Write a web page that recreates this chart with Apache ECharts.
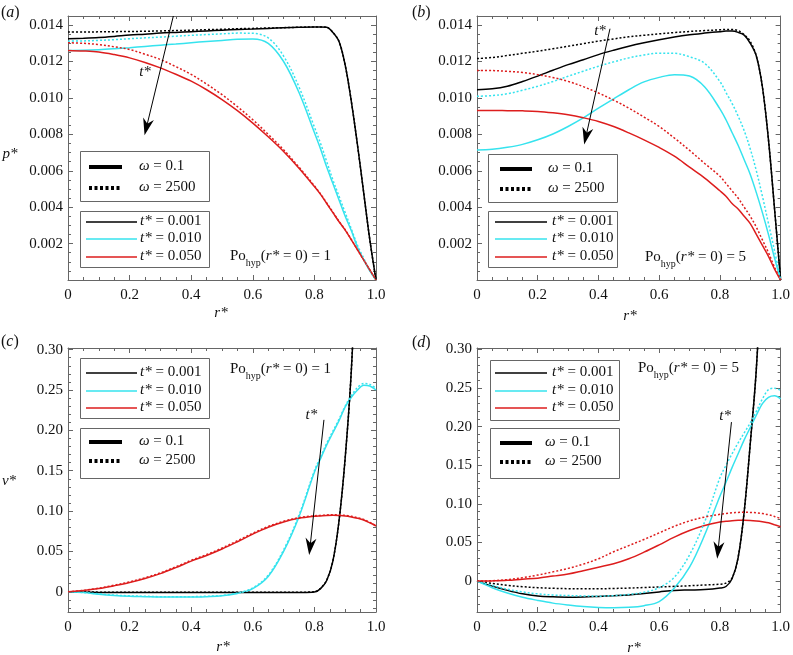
<!DOCTYPE html>
<html><head><meta charset="utf-8">
<script src="https://cdn.jsdelivr.net/npm/echarts@6/dist/echarts.min.js"></script>
<style>html,body{margin:0;padding:0;background:#fff}#c{width:793px;height:655px}</style>
</head><body><div id="c"></div>
<script>
// ---------- data ----------
const R = [0,0.05,0.1,0.15,0.2,0.25,0.3,0.35,0.4,0.45,0.5,0.55,0.6,0.65,0.7,0.75,0.8,0.82,0.84,0.86,0.88,0.9,0.92,0.94,0.96,0.98,1.0];
const R_TICKS = [0,0.2,0.4,0.6,0.8,1.0];
const P_TICKS = [0.002,0.004,0.006,0.008,0.010,0.012,0.014];
const V_TICKS = [0,0.05,0.10,0.15,0.20,0.25,0.30];
const T_LABELS = ['0.001','0.010','0.050'];
const W_LABELS = ['0.1','2500'];
const PO_LABELS = ['1','5','1','5'];

// panel (a): p*, Po=1
const pA_t001_w01   = [0.01325,0.01328,0.01332,0.01338,0.01345,0.0135,0.01356,0.0136,0.01364,0.01368,0.01372,0.01376,0.01379,0.01382,0.01385,0.01388,0.0139,0.0139,0.01388,0.0136,0.0131,0.0118,0.0098,0.0074,0.0048,0.0022,0];
const pA_t001_w2500 = [0.01362,0.01362,0.01363,0.01364,0.01365,0.01366,0.01368,0.0137,0.01372,0.01375,0.01377,0.0138,0.01382,0.01384,0.01386,0.01388,0.0139,0.0139,0.01388,0.0136,0.0131,0.0118,0.0098,0.0074,0.0048,0.0022,0];
const pA_t010_w01   = [0.01261,0.01262,0.01265,0.0127,0.01276,0.01283,0.0129,0.01296,0.01303,0.0131,0.01316,0.01322,0.01324,0.013,0.012,0.0103,0.0081,0.0072,0.0062,0.0053,0.0044,0.0035,0.0027,0.0018,0.0011,0.0005,0];
const pA_t010_w2500 = [0.01312,0.01313,0.01316,0.0132,0.01325,0.0133,0.01334,0.01339,0.01344,0.01348,0.01352,0.01356,0.01355,0.0133,0.0123,0.0106,0.0084,0.0075,0.0065,0.0055,0.0046,0.0037,0.0028,0.0019,0.0012,0.0005,0];
const pA_t050_w01   = [0.01261,0.01258,0.01252,0.01238,0.0122,0.01195,0.01165,0.0113,0.01092,0.01045,0.00991,0.0093,0.00862,0.00787,0.00706,0.00614,0.00513,0.0047,0.0042,0.0037,0.0032,0.00274,0.0022,0.00165,0.0011,0.00055,0];
const pA_t050_w2500 = [0.01303,0.013,0.01293,0.01281,0.01266,0.0124,0.01211,0.01172,0.01129,0.01076,0.01018,0.00952,0.0088,0.008,0.00715,0.0062,0.00517,0.00473,0.00423,0.00373,0.00322,0.00276,0.00222,0.00166,0.0011,0.00055,0];

// panel (b): p*, Po=5
const pB_t001_w01   = [0.01045,0.0105,0.01064,0.0109,0.0112,0.01152,0.01183,0.0121,0.01238,0.01262,0.01284,0.01303,0.0132,0.01335,0.01347,0.01356,0.01364,0.01367,0.01367,0.0136,0.01345,0.0130,0.0123,0.0106,0.0077,0.0039,0];
const pB_t001_w2500 = [0.01216,0.01222,0.01233,0.01245,0.01257,0.0127,0.01284,0.01298,0.01312,0.01324,0.01336,0.01344,0.01352,0.01359,0.01365,0.0137,0.01374,0.01376,0.01376,0.0137,0.01348,0.0131,0.0123,0.0106,0.0077,0.0039,0];
const pB_t010_w01   = [0.00714,0.00718,0.00729,0.00745,0.0077,0.00802,0.00843,0.0089,0.00944,0.00995,0.01045,0.01088,0.01113,0.01128,0.0112,0.0106,0.0094,0.0088,0.0081,0.0074,0.0066,0.0058,0.0048,0.0037,0.0025,0.0012,0];
const pB_t010_w2500 = [0.01009,0.01013,0.01023,0.01042,0.01064,0.0109,0.01119,0.01147,0.01174,0.01198,0.0122,0.01236,0.01246,0.01245,0.01226,0.0119,0.0109,0.0103,0.0097,0.009,0.0082,0.0072,0.006,0.0046,0.0031,0.0016,0];
const pB_t050_w01   = [0.00931,0.00931,0.0093,0.00929,0.00926,0.00918,0.00907,0.00891,0.00871,0.00843,0.00808,0.0077,0.00728,0.0068,0.0062,0.0056,0.0049,0.0046,0.0042,0.0039,0.0035,0.0031,0.0025,0.0019,0.0013,0.0006,0];
const pB_t050_w2500 = [0.0115,0.0115,0.01146,0.0114,0.01128,0.01112,0.01091,0.01062,0.01027,0.00988,0.00944,0.00895,0.00843,0.0078,0.00712,0.0064,0.0057,0.0053,0.0049,0.0045,0.004,0.0035,0.0029,0.0022,0.0015,0.0007,0];

// panel (c): v*, Po=1
const vC_t001_w01   = [0,-0.0004,-0.0007,-0.0009,-0.001,-0.001,-0.001,-0.001,-0.001,-0.001,-0.001,-0.001,-0.001,-0.001,-0.001,-0.0009,-0.0003,0.004,0.014,0.038,0.088,0.166,0.275,0.45,null,null,null];
const vC_t001_w2500 = [0,-0.0002,-0.0004,-0.0005,-0.0006,-0.0006,-0.0006,-0.0006,-0.0006,-0.0006,-0.0006,-0.0006,-0.0006,-0.0006,-0.0006,-0.0005,0,0.0045,0.0145,0.0385,0.088,0.166,0.275,0.45,null,null,null];
const vC_t010_w01   = [0,-0.001,-0.003,-0.0045,-0.0055,-0.006,-0.0065,-0.0065,-0.0065,-0.006,-0.005,-0.002,0.004,0.019,0.05,0.093,0.148,0.165,0.182,0.197,0.212,0.229,0.241,0.25,0.256,0.255,0.25];
const vC_t010_w2500 = [0,-0.0008,-0.0025,-0.004,-0.005,-0.0055,-0.006,-0.006,-0.006,-0.0055,-0.0045,-0.0015,0.0048,0.0205,0.052,0.095,0.15,0.167,0.184,0.199,0.214,0.23,0.243,0.253,0.258,0.257,0.252];
const vC_t050_w01   = [0,0.0015,0.004,0.0075,0.0115,0.0165,0.0225,0.03,0.038,0.045,0.053,0.062,0.0715,0.08,0.0865,0.091,0.0935,0.094,0.0945,0.0947,0.0945,0.094,0.0928,0.0912,0.089,0.0855,0.0815];
const vC_t050_w2500 = [0,0.0017,0.0045,0.0082,0.0123,0.0174,0.0235,0.031,0.039,0.0462,0.0542,0.0632,0.0725,0.081,0.0873,0.0918,0.0942,0.0947,0.0952,0.0954,0.0952,0.0947,0.0935,0.0918,0.0896,0.086,0.082];

// panel (d): v*, Po=5
const vD_t001_w01   = [0,-0.0065,-0.012,-0.0165,-0.0192,-0.0203,-0.0208,-0.0205,-0.0198,-0.019,-0.018,-0.016,-0.014,-0.012,-0.0115,-0.011,-0.009,-0.007,0.003,0.03,0.09,0.178,0.275,0.43,null,null,null];
const vD_t001_w2500 = [0,-0.003,-0.0055,-0.0072,-0.0085,-0.0093,-0.0098,-0.01,-0.01,-0.0095,-0.009,-0.0083,-0.0076,-0.0068,-0.006,-0.005,-0.004,-0.0025,0.004,0.031,0.09,0.178,0.275,0.43,null,null,null];
const vD_t010_w01   = [0,-0.0085,-0.0155,-0.021,-0.025,-0.0285,-0.031,-0.033,-0.0342,-0.0346,-0.034,-0.0318,-0.0265,-0.009,0.018,0.06,0.11,0.128,0.147,0.165,0.183,0.199,0.215,0.23,0.238,0.24,0.236];
const vD_t010_w2500 = [0,-0.0055,-0.0105,-0.014,-0.0165,-0.018,-0.0187,-0.0192,-0.0195,-0.0188,-0.0172,-0.0145,-0.0085,0.005,0.034,0.077,0.134,0.15,0.165,0.179,0.192,0.205,0.22,0.236,0.248,0.25,0.247];
const vD_t050_w01   = [0,0.0003,0.001,0.0025,0.0038,0.0065,0.0092,0.0135,0.018,0.0225,0.029,0.0375,0.047,0.057,0.0655,0.072,0.0766,0.0775,0.0783,0.0787,0.0788,0.0785,0.0778,0.0768,0.0755,0.073,0.0706];
const vD_t050_w2500 = [0,0.0005,0.002,0.0045,0.0078,0.012,0.0165,0.022,0.029,0.038,0.046,0.054,0.0625,0.071,0.078,0.083,0.0865,0.0875,0.0885,0.089,0.0893,0.089,0.0885,0.0875,0.086,0.0838,0.081];

// arrows: start, tip, t* label position (data coords)
const ARROWS = [
  [[0.342,0.0145],[0.255,0.0084],[0.25,0.0114]],
  [[0.438,0.0138],[0.359,0.0079],[0.405,0.0137]],
  [[0.831,0.213],[0.786,0.056],[0.79,0.219]],
  [[0.838,0.206],[0.794,0.040],[0.817,0.214]]
];

// ---------- styling ----------
const FONT = "Liberation Serif, Tinos, DejaVu Serif, Noto Serif, serif";
const FRAME = '#666666';
const TXT = '#111111';
const BLACK = '#000000', CYAN = '#36e3ee', RED = '#dd1d1d';
const ARROW_PATH = 'path://M6,0L12,17L6,12L0,17Z';

const GRIDS = [
  {left:68, top:16, width:308, height:264},
  {left:477, top:16, width:306, height:264},
  {left:68, top:348, width:308, height:264},
  {left:477, top:348, width:306, height:264}
];
const YR = [[0,0.0145],[0,0.0145],[-0.025,0.302],[-0.04,0.302]];

function minorList(lo, hi, step, majorStep){
  const out = [];
  const n0 = Math.ceil(lo/step - 1e-9), n1 = Math.floor(hi/step + 1e-9);
  const k = Math.round(majorStep/step);
  for (let n=n0;n<=n1;n++){ if (n % k !== 0) out.push(+(n*step).toFixed(6)); }
  return out;
}

const fmtR = v => v===0 ? '0' : v.toFixed(1);
const fmtP = v => v.toFixed(3);
const fmtV = v => v===0 ? '0' : v.toFixed(2);

const xAxis = [], yAxis = [];
GRIDS.forEach((g,gi)=>{
  const xb = {gridIndex:gi, type:'value', min:0, max:1, interval:0.2, splitLine:{show:false},
    axisLine:{show:true,onZero:false,lineStyle:{color:FRAME,width:1}},
    axisTick:{show:true,inside:true,length:5,lineStyle:{color:FRAME}},
    minorTick:{show:true,splitNumber:4,length:3,lineStyle:{color:FRAME}},
    minorSplitLine:{show:false}};
  xAxis.push(Object.assign({}, xb, {position:'bottom',
    axisLabel:{show:true,formatter:fmtR,margin:8,fontFamily:FONT,fontSize:15,color:TXT}}));
  xAxis.push(Object.assign({}, xb, {position:'top', axisLabel:{show:false}}));
  const [mn,mx] = YR[gi];
  const isP = gi<2;
  const major = isP ? P_TICKS : V_TICKS;
  const minor = isP ? minorList(0.0005, 0.0144, 0.0005, 0.002) : minorList(mn, 0.295, 0.01, 0.05);
  const yb = {gridIndex:gi, type:'value', min:mn, max:mx, splitLine:{show:false}};
  yAxis.push(Object.assign({}, yb, {position:'left',
    axisLine:{show:true,onZero:false,lineStyle:{color:FRAME,width:1}},
    axisTick:{show:true,inside:true,length:5,customValues:major,lineStyle:{color:FRAME}},
    axisLabel:{show:true,customValues:major,formatter:isP?fmtP:fmtV,margin:5,fontFamily:FONT,fontSize:15,color:TXT}}));
  yAxis.push(Object.assign({}, yb, {position:'left',
    axisLine:{show:false,onZero:false},
    axisTick:{show:true,inside:true,length:3,customValues:minor,lineStyle:{color:FRAME}},
    axisLabel:{show:false}}));
  yAxis.push(Object.assign({}, yb, {position:'right',
    axisLine:{show:true,onZero:false,lineStyle:{color:FRAME,width:1}},
    axisTick:{show:true,inside:true,length:5,customValues:major,lineStyle:{color:FRAME}},
    axisLabel:{show:false}}));
  yAxis.push(Object.assign({}, yb, {position:'right',
    axisLine:{show:false,onZero:false},
    axisTick:{show:true,inside:true,length:3,customValues:minor,lineStyle:{color:FRAME}},
    axisLabel:{show:false}}));
});

const PANELS = [
  [pA_t001_w01,pA_t001_w2500,pA_t010_w01,pA_t010_w2500,pA_t050_w01,pA_t050_w2500],
  [pB_t001_w01,pB_t001_w2500,pB_t010_w01,pB_t010_w2500,pB_t050_w01,pB_t050_w2500],
  [vC_t001_w01,vC_t001_w2500,vC_t010_w01,vC_t010_w2500,vC_t050_w01,vC_t050_w2500],
  [vD_t001_w01,vD_t001_w2500,vD_t010_w01,vD_t010_w2500,vD_t050_w01,vD_t050_w2500]
];
const COLORS = [BLACK, BLACK, CYAN, CYAN, RED, RED];

const series = [];
PANELS.forEach((arrs,gi)=>{
  arrs.forEach((ys,si)=>{
    const dotted = si%2===1;
    const s = {
      type:'line', xAxisIndex:gi*2, yAxisIndex:gi*4,
      data: R.map((r,i)=>[r, ys[i]]).filter(p=>p[1]!==null && p[1]!==undefined),
      showSymbol:false, symbol:'none', smooth:0.35, clip:true,
      lineStyle:{color:COLORS[si], width:1.5, type: dotted ? [2,2] : 'solid'},
      z: 2 + (dotted?1:0), animation:false, silent:true
    };
    if (si===0){
      const a = ARROWS[gi];
      s.markLine = {silent:true, animation:false, symbol:['none',ARROW_PATH], symbolSize:[11,17],
        lineStyle:{color:'#000',width:1,type:'solid'}, itemStyle:{color:'#000'}, label:{show:false},
        data:[[{coord:a[0]},{coord:a[1]}]]};
      s.markPoint = {silent:true, animation:false, symbol:'circle', symbolSize:0,
        label:{show:true, position:'inside', formatter:'{i|t*}',
          rich:{i:{fontFamily:FONT,fontSize:15,fontStyle:'italic',color:TXT}}},
        data:[{coord:a[2]}]};
    }
    series.push(s);
  });
});

// ---------- annotations (legend boxes, labels) ----------
const RICH = {
  i:{fontFamily:FONT,fontSize:15,fontStyle:'italic',fill:TXT,verticalAlign:'top',lineHeight:16},
  n:{fontFamily:FONT,fontSize:15,fill:TXT,verticalAlign:'top',lineHeight:16},
  s:{fontFamily:FONT,fontSize:10,fill:TXT,verticalAlign:'top',lineHeight:10,padding:[9,0,0,0]}
};
const G = [];
function txt(x,y,text,size,extra){
  G.push({type:'text', x, y, z:20, silent:true,
    style:Object.assign({text, fontFamily:FONT, fontSize:size||15, fill:TXT, align:'left', verticalAlign:'middle', rich:RICH}, extra||{})});
}
function rect(x,y,w,h){
  G.push({type:'rect', z:10, silent:true, shape:{x:x+0.5,y:y+0.5,width:w,height:h}, style:{fill:'#fff',stroke:FRAME,lineWidth:1}});
}
function seg(x1,x2,y,color,w,dash){
  G.push({type:'line', z:15, silent:true, shape:{x1,y1:y,x2,y2:y}, style:{stroke:color,lineWidth:w,lineDash:dash||null}});
}
function tBox(x,y,h,rows,lx1,lx2,tx){
  rect(x,y,129,h);
  const cols=[BLACK,CYAN,RED];
  rows.forEach((ry,k)=>{ seg(lx1,lx2,ry,cols[k],1.6); txt(tx,ry,'{i|t*}{n| = '+T_LABELS[k]+'}'); });
}
function wBox(x,y,h,rows,lx1,lx2,tx){
  rect(x,y,129,h);
  seg(lx1,lx2,rows[0],BLACK,4);
  seg(lx1,lx2,rows[1],BLACK,4,[3,2.5]);
  txt(tx,rows[0],'{i|ω}{n| = '+W_LABELS[0]+'}');
  txt(tx,rows[1],'{i|ω}{n| = '+W_LABELS[1]+'}');
}
function po(x,y,k){
  txt(x,y,'{n|Po}{s|hyp}{n|(}{i|r*}{n| = 0) = '+PO_LABELS[k]+'}');
}
// (a)
wBox(80,151,50,[167,188],89,122,139);
tBox(80,211,56,[222,239,257],86,137,140);
po(230,257,0);
// (b)
wBox(488,154,48,[169,189],500,532,548);
tBox(488,211,56,[222,239,257],495,547,552);
po(645,258,1);
// (c)
tBox(80,358,60,[373,391,408],86,137,140);
wBox(80,428,50,[442,461],89,122,139);
po(230,370,2);
// (d)
tBox(490,360,60,[373,391,408],495,547,552);
wBox(490,428,50,[443,462],500,532,545);
po(638,369,3);

// panel letters & axis names
const PRICH = {i:{fontFamily:FONT,fontSize:16,fontStyle:'italic',fill:TXT}};
[['a',1,13],['b',412,13],['c',1,342],['d',412,343]].forEach(([l,x,y])=>{
  G.push({type:'text',x,y,z:20,silent:true,style:{text:'({i|'+l+'})',fontFamily:FONT,fontSize:16,fill:TXT,verticalAlign:'middle',rich:PRICH}});
});
[['p*',10,154],['v*',9,481],['r*',221,313],['r*',630,316],['r*',223,647],['r*',634,648]].forEach(([t,x,y])=>{
  G.push({type:'text',x,y,z:20,silent:true,style:{text:'{i|'+t+'}',fontFamily:FONT,fontSize:15,fill:TXT,align:'center',verticalAlign:'middle',rich:{i:{fontFamily:FONT,fontSize:15,fontStyle:'italic',fill:TXT}}}});
});

const chart = echarts.init(document.getElementById('c'), null, {renderer:'canvas'});
chart.setOption({
  animation:false,
  backgroundColor:'#ffffff',
  textStyle:{fontFamily:FONT},
  grid: GRIDS.map(g=>Object.assign({containLabel:false, show:false}, g)),
  xAxis, yAxis, series,
  graphic: G
});
</script></body></html>
